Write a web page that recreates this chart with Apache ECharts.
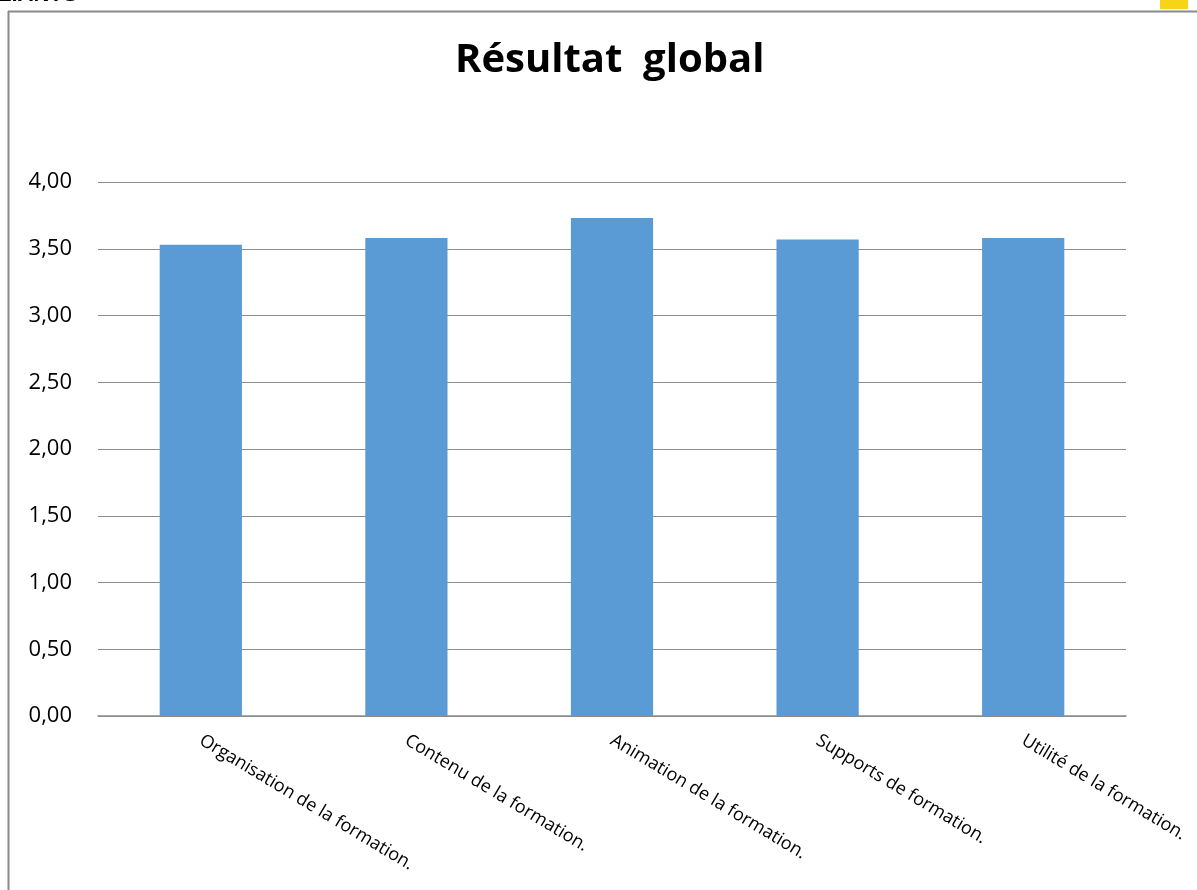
<!DOCTYPE html>
<html>
<head>
<meta charset="utf-8">
<script src="https://cdn.jsdelivr.net/npm/echarts@6/dist/echarts.min.js"></script>
<style>
html,body{margin:0;padding:0;background:#fff;}
#chart{width:1197px;height:890px;}
</style>
</head>
<body>
<div id="chart"></div>
<script>
var categories = ['Organisation de la formation.', 'Contenu de la formation.', 'Animation de la formation.', 'Supports de formation.', 'Utilité de la formation.'];
var values = [3.53, 3.58, 3.73, 3.57, 3.58];
var titleText = 'Résultat  global';

var chart = echarts.init(document.getElementById('chart'));
chart.setOption({
  animation: false,
  backgroundColor: '#ffffff',
  title: {
    text: titleText,
    left: 450,
    top: 36,
    textStyle: { fontFamily: 'Open Sans', fontWeight: 'bold', fontSize: 40, color: '#000' }
  },
  graphic: [
    { type: 'line', shape: { x1: 8, y1: 11.5, x2: 1197, y2: 11.5 }, style: { stroke: '#8a8a8a', lineWidth: 2 } },
    { type: 'line', shape: { x1: 8.5, y1: 11, x2: 8.5, y2: 890 }, style: { stroke: '#8a8a8a', lineWidth: 2 } },
    { type: 'text', left: -2, top: -16, style: { text: 'LIANTS', font: 'bold 22px "Liberation Sans"', fill: '#000' } },
    { type: 'rect', shape: { x: 1160, y: 0, width: 28, height: 9 }, style: { fill: '#f7d417' } }
  ],
  grid: { left: 98, right: 71, top: 182, bottom: 174 },
  xAxis: {
    type: 'category',
    data: categories,
    axisTick: { show: false },
    axisLine: { lineStyle: { color: '#8c8c8c', width: 1.5 } },
    axisLabel: {
      rotate: -31,
      interval: 0,
      margin: 23,
      fontFamily: 'Open Sans',
      fontSize: 18,
      color: '#000'
    }
  },
  yAxis: {
    type: 'value',
    min: 0,
    max: 4,
    interval: 0.5,
    axisLine: { show: false },
    axisTick: { show: false },
    splitLine: { lineStyle: { color: '#8c8c8c', width: 1.2 } },
    axisLabel: {
      margin: 26,
      fontFamily: 'Open Sans',
      fontSize: 22,
      color: '#000',
      formatter: function (v) { return v.toFixed(2).replace('.', ','); }
    }
  },
  series: [{
    type: 'bar',
    data: values,
    barCategoryGap: '60%',
    itemStyle: { color: '#5b9bd5' }
  }]
});
</script>
</body>
</html>
